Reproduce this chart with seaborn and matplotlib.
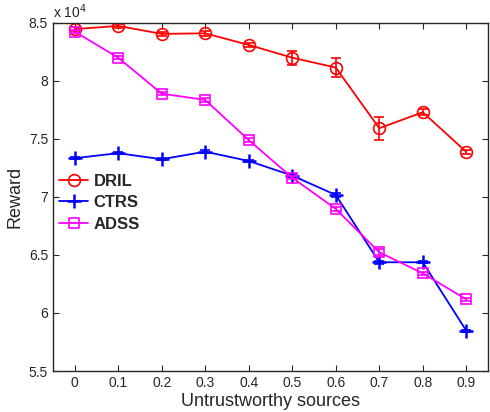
import matplotlib
matplotlib.use("Agg")
import matplotlib.pyplot as plt
import matplotlib.ticker as mticker
import pandas as pd
import numpy as np
import seaborn as sns

# fraction of untrustworthy sources
x_vals = [0, 0.1, 0.2, 0.3, 0.4, 0.5, 0.6, 0.7, 0.8, 0.9]

# reward values
dril = [84460, 84740, 84050, 84100, 83100, 82000, 81150, 75920, 77300, 73880]
dril_err = [150, 150, 150, 200, 150, 600, 800, 1000, 250, 150]
ctrs = [73340, 73770, 73250, 73900, 73100, 71840, 70170, 64370, 64370, 58470]
ctrs_err = [100, 100, 100, 150, 100, 150, 150, 150, 100, 100]
adss = [84250, 82000, 78900, 78360, 74900, 71660, 68970, 65230, 63420, 61180]
adss_err = [150, 150, 150, 150, 150, 150, 200, 250, 150, 150]

names = ["DRIL", "CTRS", "ADSS"]
colors = ["#ff0000", "#0000ff", "#ff00ff"]

rows = []
for name, vals in zip(names, [dril, ctrs, adss]):
    for xv, v in zip(x_vals, vals):
        rows.append({"x": xv, "reward": v, "method": name})
df = pd.DataFrame(rows)

sns.set_style("ticks")
plt.rcParams["font.family"] = ["Liberation Sans", "DejaVu Sans"]

fig = plt.figure(figsize=(4.9, 4.12), dpi=100)
ax = fig.add_axes([0.108, 0.0995, 0.888, 0.845])

styles = {
    "DRIL": dict(marker="o", ms=8.5, mfc="none", mew=1.2),
    "CTRS": dict(marker="+", ms=10, mew=1.8),
    "ADSS": dict(marker="s", ms=7.5, mfc="none", mew=1.2),
}
errs = {"DRIL": dril_err, "CTRS": ctrs_err, "ADSS": adss_err}

handles = []
for name, c in zip(names, colors):
    sub = df[df["method"] == name]
    sns.lineplot(data=sub, x="x", y="reward", ax=ax, color=c, lw=1.3,
                 legend=False)
    ax.errorbar(sub["x"], sub["reward"], yerr=errs[name], fmt="none",
                ecolor=c, elinewidth=1.2, capsize=3.5, capthick=1.2)
    ax.plot(sub["x"], sub["reward"], ls="none", color=c, **styles[name])
    h, = ax.plot([], [], color=c, lw=1.3, **styles[name])
    handles.append(h)

ax.set_xlim(-0.05, 0.95)
ax.set_ylim(55000, 85000)
ax.set_xticks(x_vals)
ax.set_xticklabels([f"{v:g}" for v in x_vals])
ax.set_yticks(np.arange(55000, 85001, 5000))
ax.yaxis.set_major_formatter(mticker.FuncFormatter(lambda v, p: f"{v/1e4:g}"))
ax.tick_params(direction="in", top=True, right=True, labelsize=10, length=4, width=0.8)
for sp in ax.spines.values():
    sp.set_linewidth(1.0)
    sp.set_visible(True)

ax.text(0.0, 1.005, r"x 10$^4$", transform=ax.transAxes, fontsize=10,
        ha="left", va="bottom")
ax.set_xlabel("Untrustworthy sources", fontsize=13, labelpad=2)
ax.set_ylabel("Reward", fontsize=13, labelpad=4)

leg = ax.legend(handles, names, loc="upper left", bbox_to_anchor=(-0.02, 0.61),
                frameon=False, handlelength=1.75, handletextpad=0.3,
                labelspacing=0.4, prop={"weight": "bold", "size": 12})

fig.savefig("out.png", dpi=100)
